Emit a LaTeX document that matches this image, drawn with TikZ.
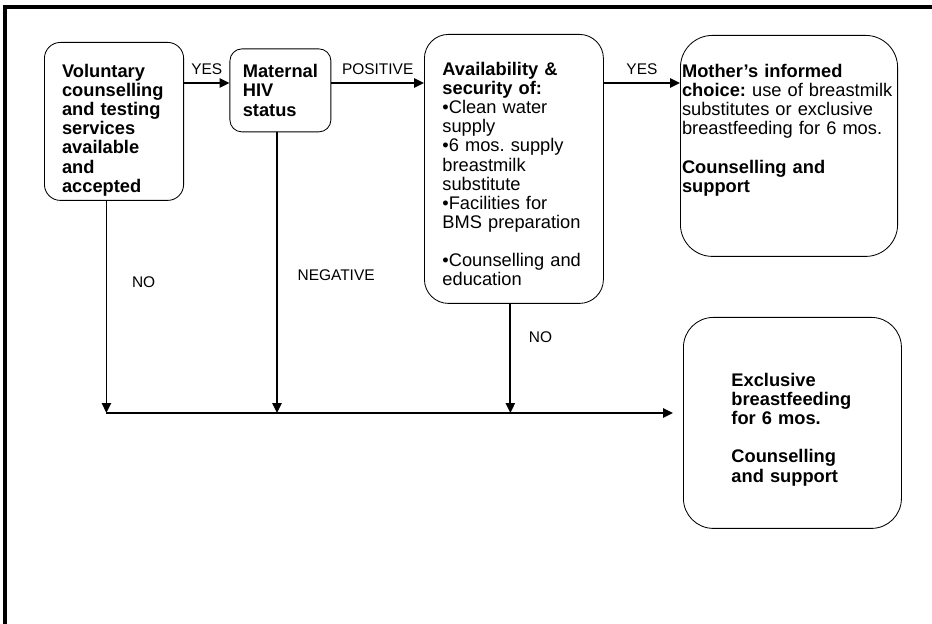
\documentclass[tikz,border=0pt]{standalone}
\usepackage{fontspec}
\setmainfont{Liberation Sans}
\usetikzlibrary{arrows.meta}
\hyphenpenalty=10000
\exhyphenpenalty=10000
\frenchspacing

\begin{document}
\begin{tikzpicture}[
    box/.style={rectangle, draw, line width=0.6pt, align=left, font=\fontsize{13}{13.6}\selectfont, rounded corners=0.4cm},
    boldbox/.style={box, font=\fontsize{13}{13.6}\selectfont\bfseries},
    topbox/.style={anchor=north west, inner ysep=0pt},
    answer/.style={font=\fontsize{11}{12}\selectfont},
    arrow/.style={-{Triangle[length=7pt,width=6.5pt]}, line width=1.3pt}
]
    % Canvas and frame
    \useasboundingbox (0,0) rectangle (23.3,15.6);
    \draw[line width=2.2pt] (0.125,0) -- (0.125,15.425) -- (23.3,15.425);

    % Decision boxes
    \node[boldbox, topbox, text width=2.6cm, inner xsep=0.44cm, text height=0.875cm, text depth=3.075cm] (vct) at (1.1,14.55) {Voluntary\\ counselling\\ and testing\\ services\\ available\\ and\\ accepted};
    \node[boldbox, minimum width=2.525cm, minimum height=2.075cm, rounded corners=0.3cm] (hiv) at (7.01,13.34) {Maternal\\ HIV\\ status};
    \node[box, topbox, text width=3.575cm, inner xsep=0.45cm, text height=1.025cm, text depth=5.7cm, rounded corners=0.6cm] (avail) at (10.6,14.75) {\textbf{Availability \&}\\ \textbf{security of:}\\ •Clean water\\ supply\\ •6 mos. supply\\ breastmilk\\ substitute\\ •Facilities for\\ BMS preparation\\[13.6pt] •Counselling and\\ education};

    % Outcome boxes
    \node[box, topbox, text width=5.35cm, inner xsep=0.04cm, text height=1.05cm, text depth=4.475cm, rounded corners=0.8cm] (choice) at (17,14.725) {\textbf{Mother’s informed}\\ \textbf{choice:} use of breastmilk\\ substitutes or exclusive\\ breastfeeding for 6 mos.\\[13.6pt] \textbf{Counselling and}\\ \textbf{support}};
    \node[boldbox, topbox, text width=3.05cm, inner xsep=1.2cm, text height=1.725cm, text depth=3.55cm, rounded corners=0.75cm] (ebf) at (17.075,7.675) {Exclusive\\ breastfeeding\\ for 6 mos.\\[13.6pt] Counselling\\ and support};

    % Top row of arrows
    \coordinate (row) at (0,13.525);
    \draw[arrow] (vct.east |- row) -- node[answer, above, yshift=2pt] {YES} (hiv.west |- row);
    \draw[arrow] (hiv.east |- row) -- node[answer, above, yshift=2pt] {POSITIVE} (avail.west |- row);
    \draw[arrow] (avail.east |- row) -- node[answer, above, yshift=2pt] {YES} (choice.west |- row);

    % Drops onto the bottom line
    \coordinate (bus) at (2.65,5.275);
    \draw[arrow] ([xshift=-0.19cm]vct.south) -- node[answer, right, xshift=0.5cm, pos=0.385] {NO} ([xshift=-0.19cm]vct.south |- bus);
    \draw[arrow] ([xshift=-0.085cm]hiv.south) -- node[answer, right, xshift=0.375cm, pos=0.51] {NEGATIVE} ([xshift=-0.085cm]hiv.south |- bus);
    \draw[arrow] ([xshift=-0.09cm]avail.south) -- node[answer, right, xshift=0.325cm, pos=0.31] {NO} ([xshift=-0.09cm]avail.south |- bus);
    \draw[arrow] (bus) -- ([xshift=-0.25cm]ebf.west |- bus);
\end{tikzpicture}
\end{document}
